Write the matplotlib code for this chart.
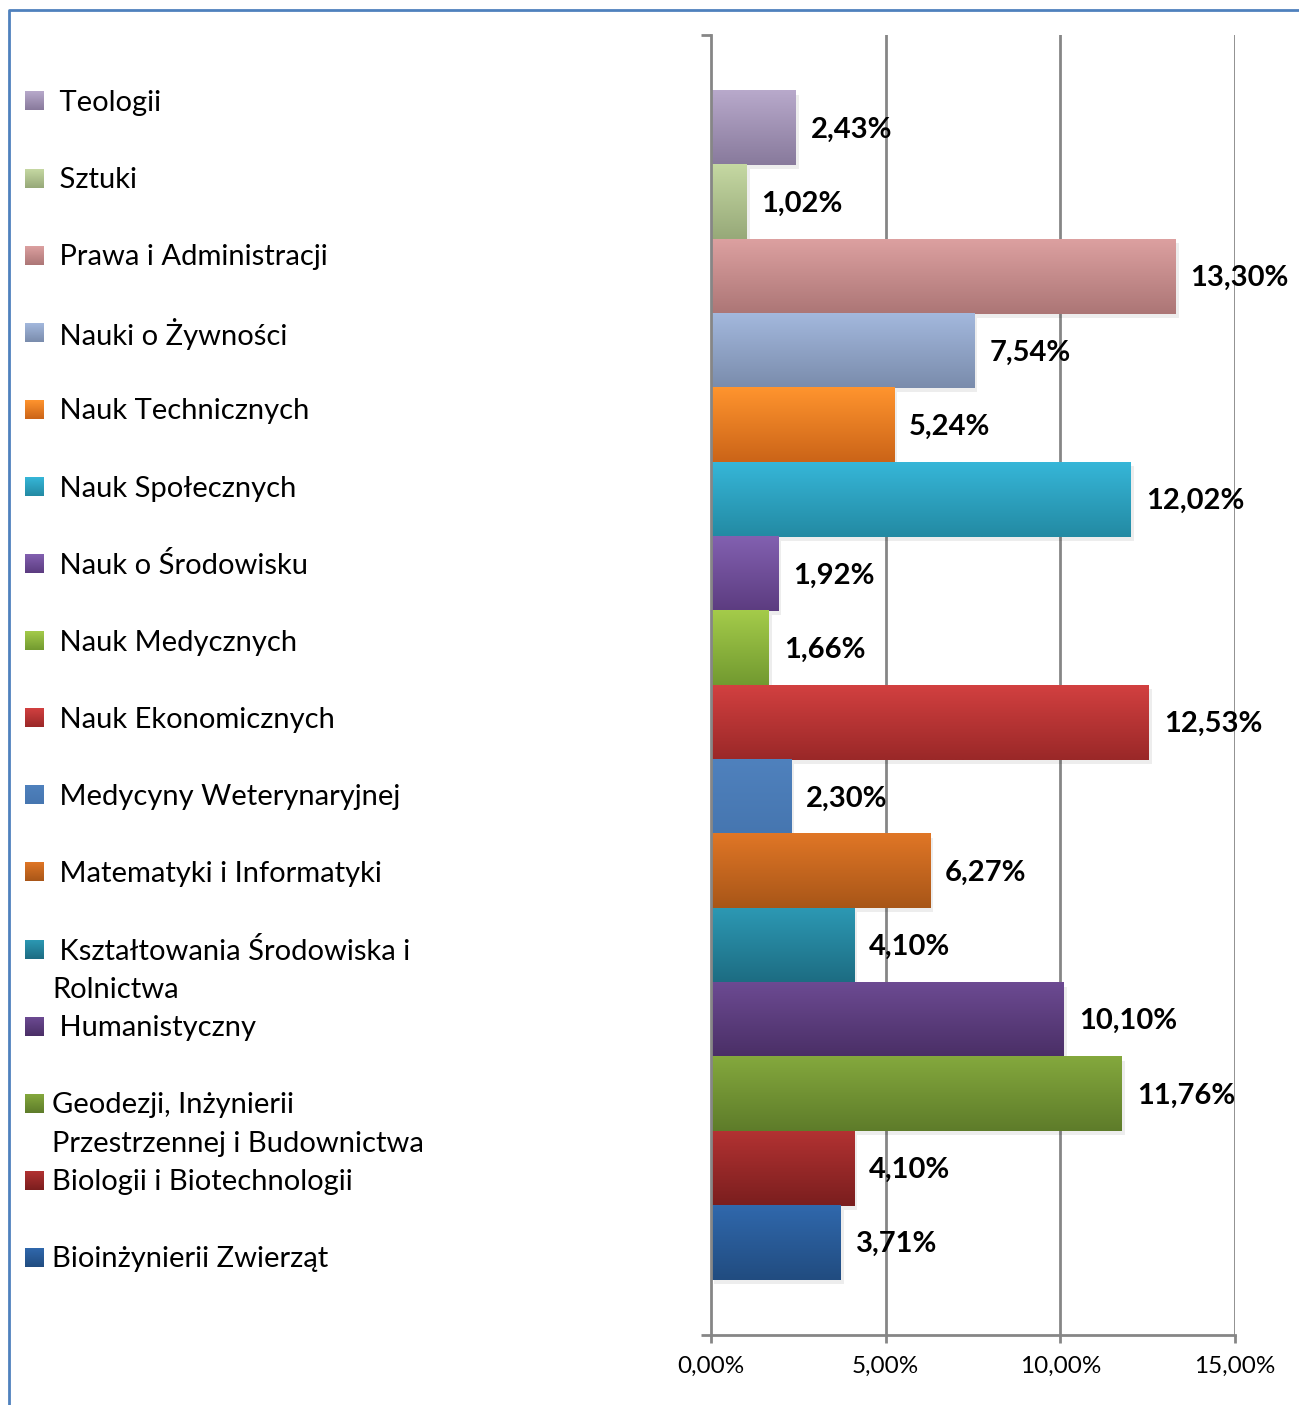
import numpy as np
import matplotlib
matplotlib.use("Agg")
import matplotlib.pyplot as plt
from matplotlib.colors import to_rgb
import matplotlib.ticker as ticker

plt.rcParams["font.family"] = ["Lato", "DejaVu Sans"]

# categories from top to bottom (as in the legend)
CATEGORIES = [
    " Teologii",
    " Sztuki",
    " Prawa i Administracji",
    " Nauki o Żywności",
    " Nauk Technicznych",
    " Nauk Społecznych",
    " Nauk o Środowisku",
    " Nauk Medycznych",
    " Nauk Ekonomicznych",
    " Medycyny Weterynaryjnej",
    " Matematyki i Informatyki",
    " Kształtowania Środowiska i\nRolnictwa",
    " Humanistyczny",
    "Geodezji, Inżynierii\nPrzestrzennej i Budownictwa",
    "Biologii i Biotechnologii",
    "Bioinżynierii Zwierząt",
]
VALUES = [2.43, 1.02, 13.30, 7.54, 5.24, 12.02, 1.92, 1.66,
          12.53, 2.30, 6.27, 4.10, 10.10, 11.76, 4.10, 3.71]
# gradient colours (top, bottom) per bar
TOP_COLORS = ["#B8A9CB", "#C5D8A2", "#DCA0A0", "#A3B8DD", "#FF942E", "#36B6D8",
              "#8260B0", "#A4CB4A", "#D24040", "#4F81BD", "#E07626", "#2C98B3",
              "#6C4A92", "#84A83D", "#B23232", "#3068AC"]
BOTTOM_COLORS = ["#887A9C", "#97A979", "#AC7676", "#7A8CAC", "#CB6418", "#238AA3",
                 "#5C3C80", "#729A30", "#9A2828", "#4676B0", "#A85618", "#1D6C82",
                 "#4A2F66", "#5E7C2A", "#7A1E1E", "#214C80"]
XTICKS = [0, 5, 10, 15]

W, H = 1299, 1405
fig = plt.figure(figsize=(W / 100, H / 100), dpi=100)

# main axes: x=0 at px 711, x=15 at px 1235; y from px 35 to 1335
ax = fig.add_axes([711 / W, 1 - 1335 / H, (1235 - 711) / W, (1335 - 35) / H])
n = len(VALUES)
ylo, yhi = -0.5 - 0.74, n - 0.5 + 0.75
ax.set_xlim(0, 15)
ax.set_ylim(ylo, yhi)

grey = "#868686"
for xv in XTICKS[1:]:
    ax.axvline(xv, color=grey, lw=2, zorder=1)

def gradient(top, bottom, steps=64):
    t = np.linspace(0, 1, steps)[:, None]
    a, b = np.array(to_rgb(top)), np.array(to_rgb(bottom))
    return (a * (1 - t) + b * t)[:, None, :]

px_x = 15 / (1235 - 711)
px_y = (yhi - ylo) / 1300
for i, (v, top, bot) in enumerate(zip(VALUES, TOP_COLORS, BOTTOM_COLORS)):
    yc = n - 1 - i
    # soft shadow
    ax.add_patch(plt.Rectangle((3 * px_x, yc - 0.5 - 4 * px_y), v, 1,
                               color="#000000", alpha=0.07, lw=0, zorder=2))
    ax.imshow(gradient(top, bot), extent=(0, v, yc - 0.5, yc + 0.5),
              aspect="auto", interpolation="bilinear", zorder=3)
    lab = f"{v:.2f}".replace(".", ",") + "%"
    ax.text(v + 15 * px_x, yc - 1.5 * px_y, lab, fontsize=21, fontweight="bold",
            va="center", ha="left", zorder=5)

ax.set_xlim(0, 15)
ax.set_ylim(ylo, yhi)
ax.set_xticks(XTICKS)
ax.xaxis.set_major_formatter(ticker.FuncFormatter(
    lambda x, p: f"{x:.2f}".replace(".", ",") + "%"))
ax.set_yticks([ylo, yhi])
ax.set_yticklabels([])
ax.tick_params(axis="x", direction="out", length=6, width=2, color=grey,
               labelsize=17.5, pad=9)
ax.tick_params(axis="y", direction="out", length=7, width=2, color=grey)
for s in ["top", "right"]:
    ax.spines[s].set_visible(False)
for s in ["left", "bottom"]:
    ax.spines[s].set_color(grey)
    ax.spines[s].set_linewidth(2)
    ax.spines[s].set_zorder(4)

# overlay in pixel coordinates for legend and frame
ov = fig.add_axes([0, 0, 1, 1], zorder=-1)
ov.set_xlim(0, W)
ov.set_ylim(H, 0)
ov.axis("off")
ov.plot([9, 9, W + 5], [H + 5, 10, 10], color="#4F81BD", lw=2)

for i, (cat, top, bot) in enumerate(zip(CATEGORIES, TOP_COLORS, BOTTOM_COLORS)):
    y = 101 + 77.1 * i
    ov.imshow(gradient(top, bot), extent=(25, 44, y + 9.5, y - 9.5),
              aspect="auto", interpolation="bilinear")
    for k, line in enumerate(cat.split("\n")):
        ov.text(52, y + 2 + 39 * k, line, fontsize=21, va="center", ha="left")
ov.set_xlim(0, W)
ov.set_ylim(H, 0)

fig.savefig("out.png", dpi=100)
